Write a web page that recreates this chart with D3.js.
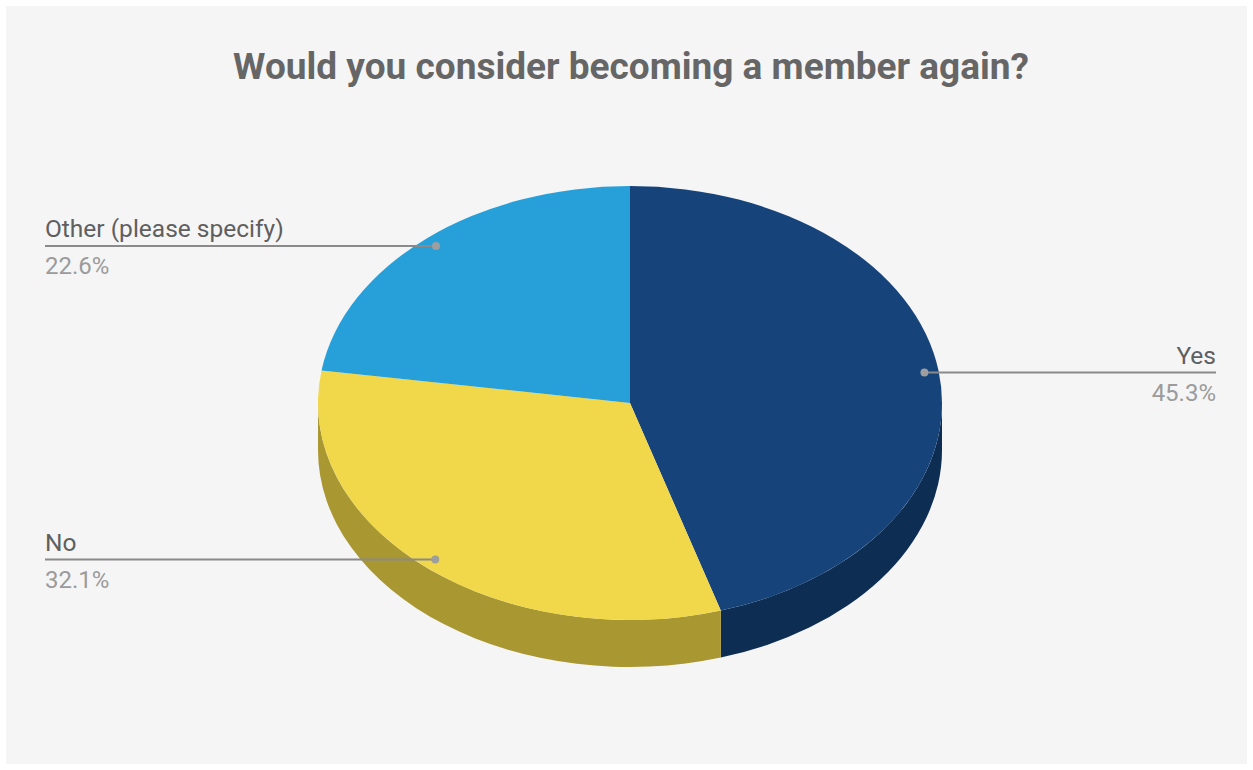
<!DOCTYPE html>
<html lang="en">
<head>
<meta charset="utf-8">
<title>Member again</title>
<style>
  body { margin: 0; background: #fff; }
  svg { display: block; }
  .title { font-family: Roboto, sans-serif; font-weight: bold; fill: #666; }
  .name { font-family: Roboto, sans-serif; fill: #5f5f5f; }
  .pct { font-family: Roboto, sans-serif; fill: #9b9b9b; }
  .leader { stroke: #8a8a8a; stroke-width: 2px; fill: none; }
</style>
</head>
<body>
<svg width="1253" height="770"></svg>
<script src="https://d3js.org/d3.v7.min.js"></script>
<script>

var labels = ["Yes", "No", "Other (please specify)"];
var values = [45.3, 32.1, 22.6];
var topColors = ["#16437a", "#f1d74a", "#279fd9"];
var sideColors = ["#0e2d52", "#a99732", "#1b79a8"];
var labelSide = ["right", "left", "left"];

var svg = d3.select("svg");
var W = 1253, H = 770;

svg.append("rect")
   .attr("x", 6).attr("y", 6)
   .attr("width", W - 12).attr("height", H - 12)
   .attr("fill", "#f5f5f5");

svg.append("text")
   .attr("class", "title")
   .attr("x", 631).attr("y", 79)
   .attr("text-anchor", "middle")
   .style("font-size", "37px")
   .text("Would you consider becoming a member again?");

var cx = 630, cy = 403, rx = 312, ry = 217, depth = 47;
var k = ry / rx;

var pie = d3.pie().sort(null).value(function(d) { return d; });
var slices = pie(values);

var arc = d3.arc().innerRadius(0).outerRadius(rx);

var g = svg.append("g")
   .attr("transform", "translate(" + cx + "," + cy + ") scale(1," + k + ")");

// side walls, only on the front half (angles between pi/2 and 3pi/2)
var D = depth / k;
function wall(a, b) {
  var p = d3.path();
  p.moveTo(rx * Math.sin(a), -rx * Math.cos(a));
  p.arc(0, 0, rx, a - Math.PI / 2, b - Math.PI / 2, false);
  p.lineTo(rx * Math.sin(b), -rx * Math.cos(b) + D);
  p.arc(0, D, rx, b - Math.PI / 2, a - Math.PI / 2, true);
  p.closePath();
  return p.toString();
}

slices.forEach(function(s, i) {
  var a = Math.max(s.startAngle, Math.PI / 2);
  var b = Math.min(s.endAngle, 3 * Math.PI / 2);
  if (b > a) {
    g.append("path")
     .attr("d", wall(a, b))
     .attr("fill", sideColors[i]);
  }
});

g.selectAll("path.top")
 .data(slices)
 .enter()
 .append("path")
 .attr("class", "top")
 .attr("d", arc)
 .attr("fill", function(d, i) { return topColors[i]; });

// leader lines + labels
var dotArc = d3.arc().innerRadius(rx * 0.954).outerRadius(rx * 0.954);
var fmt = d3.format(".1f");

slices.forEach(function(s, i) {
  var c = dotArc.centroid(s);
  var px = cx + c[0], py = cy + c[1] * k;
  var right = labelSide[i] == "right";
  var lx = right ? 1216 : 45;

  svg.append("line")
     .attr("class", "leader")
     .attr("x1", lx).attr("y1", py)
     .attr("x2", px).attr("y2", py);

  svg.append("circle")
     .attr("cx", px).attr("cy", py).attr("r", 4)
     .attr("fill", "#9e9e9e");

  svg.append("text")
     .attr("class", "name")
     .attr("x", lx).attr("y", py - 9)
     .attr("text-anchor", right ? "end" : "start")
     .style("font-size", "24.5px")
     .text(labels[i]);

  svg.append("text")
     .attr("class", "pct")
     .attr("x", lx).attr("y", py + 28)
     .attr("text-anchor", right ? "end" : "start")
     .style("font-size", "24px")
     .text(fmt(values[i]) + "%");
});

</script>
</body>
</html>
